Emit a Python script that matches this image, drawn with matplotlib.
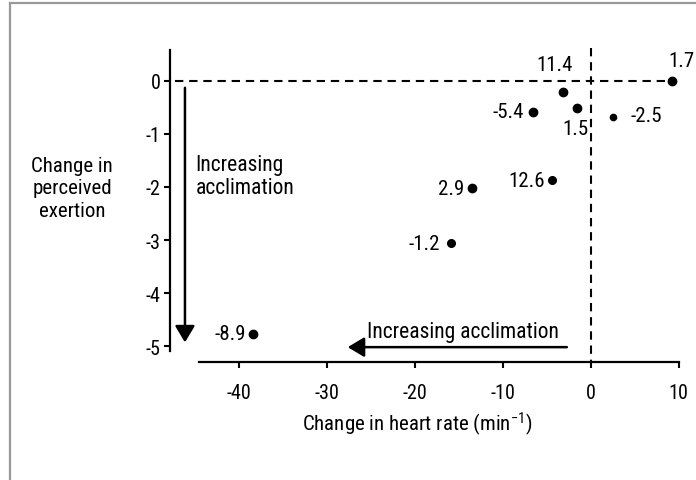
import matplotlib.pyplot as plt
from matplotlib.lines import Line2D

plt.rcParams['font.family'] = ['Liberation Sans Narrow', 'Roboto Condensed', 'Liberation Sans', 'DejaVu Sans']
plt.rcParams['mathtext.default'] = 'regular'

# change in heart rate (min-1) and change in perceived exertion
hr_change = [9.2, -3.1, -6.5, -1.5, 2.6, -4.4, -13.5, -15.9, -38.4]
rpe_change = [0.0, -0.21, -0.58, -0.51, -0.68, -1.87, -2.02, -3.06, -4.77]
point_labels = ['1.7', '11.4', '-5.4', '1.5', '-2.5', '12.6', '2.9', '-1.2', '-8.9']

# label placement (pixels from point) and alignment
lab_off = [(10, 20), (-9, 28), (-10, 0), (-2, -21), (17, 1), (-7, 0), (-8, 0), (-11, 0), (-7, 0)]
lab_ha = ['center', 'center', 'right', 'center', 'left', 'right', 'right', 'right', 'right']

xticks = [-40, -30, -20, -10, 0, 10]
yticks = [0, -1, -2, -3, -4, -5]

fig = plt.figure(figsize=(6.96, 4.81), dpi=100)
ax = fig.add_axes([170/696, 1-363/481, (678.6-170)/696, (363-49)/481])
ax.set_xlim(-47.8, 10)
ax.set_ylim(-5.3, 0.62)

for s in ['top', 'right']:
    ax.spines[s].set_visible(False)
ax.spines['left'].set_bounds(-5.1, 0.58)
ax.spines['bottom'].set_bounds(-44.5, 10)
ax.spines['left'].set_linewidth(1.6)
ax.spines['bottom'].set_linewidth(1.6)
ax.set_xticks(xticks)
ax.set_yticks(yticks)
ax.set_yticklabels([str(t) for t in yticks])
ax.set_xticklabels([str(t) for t in xticks])
ax.tick_params(axis='both', direction='out', length=4, width=1.5, labelsize=14.5)
ax.tick_params(axis='x', pad=11)
ax.tick_params(axis='y', pad=3)

# reference lines
ax.plot([-47.2, hr_change[0]], [0, 0], ls=(0, (4, 2.8)), color='black', lw=1.5)
ax.plot([0, 0], [0.62, -5.3], ls=(0, (4, 2.8)), color='black', lw=1.5)

sizes = [6, 6, 6, 6, 4.5, 5.5, 6, 5.5, 6]
for x, y, t, off, ha, ms in zip(hr_change, rpe_change, point_labels, lab_off, lab_ha, sizes):
    ax.plot(x, y, 'o', color='black', ms=ms)
    ax.annotate(t, (x, y), xytext=off, textcoords='offset pixels', ha=ha, va='center', fontsize=15)

arrow = dict(arrowstyle='-|>,head_length=0.5,head_width=0.3', lw=1.8, color='black',
             mutation_scale=20, shrinkA=0, shrinkB=0)
ax.annotate('', xy=(-46.1, -4.93), xytext=(-46.1, -0.13), arrowprops=arrow)
ax.annotate('', xy=(-27.6, -5.02), xytext=(-2.7, -5.02), arrowprops=arrow)
ax.text(-44.9, -1.38, 'Increasing\nacclimation', ha='left', va='top', fontsize=15.5, linespacing=1.1)
ax.text(-3.6, -4.72, 'Increasing acclimation', ha='right', va='center', fontsize=15.5)

fig.text(72/696, 1-189/481, 'Change in\nperceived\nexertion', ha='center', va='center',
         multialignment='center', fontsize=15, linespacing=1.25)
fig.text(417/696, 1-424/481, 'Change in heart rate (min$^{-1}$)', ha='center', va='center', fontsize=15)

# frame edges
fig.add_artist(Line2D([10/696, 1], [1-4/481, 1-4/481], color='#999999', lw=1.6))
fig.add_artist(Line2D([10/696, 10/696], [0, 1-4/481], color='#999999', lw=1.6))

fig.savefig('out.png', dpi=100)
